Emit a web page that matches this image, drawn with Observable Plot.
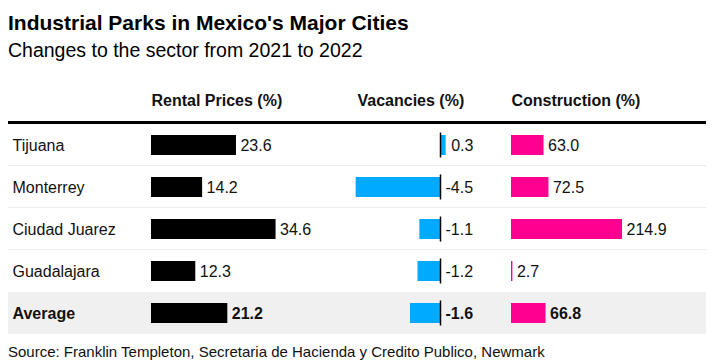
<!DOCTYPE html>
<html>
<head>
<meta charset="utf-8">
<script src="https://cdn.jsdelivr.net/npm/d3@7"></script>
<script src="https://cdn.jsdelivr.net/npm/@observablehq/plot@0.6"></script>
<style>
  html, body { margin: 0; padding: 0; background: #fff; }
  #chart { position: relative; width: 714px; height: 364px; font-family: 'Liberation Sans', Arial, sans-serif; color: #000; overflow: hidden; }
  .abs { position: absolute; }
  .title { left: 8px; top: 11.5px; font-size: 21px; line-height: 21px; font-weight: bold; white-space: nowrap; }
  .subtitle { left: 8px; top: 41px; font-size: 19.5px; line-height: 19.5px; white-space: nowrap; }
  .source { left: 8px; top: 344px; font-size: 15px; line-height: 15px; white-space: nowrap; color: #111; }
</style>
</head>
<body>
<div id="chart">
  <div class="abs title">Industrial Parks in Mexico's Major Cities</div>
  <div class="abs subtitle">Changes to the sector from 2021 to 2022</div>
  <div class="abs source">Source: Franklin Templeton, Secretaria de Hacienda y Credito Publico, Newmark</div>
</div>
<script>
const cities = ["Tijuana", "Monterrey", "Ciudad Juarez", "Guadalajara", "Average"];
const rental = [23.6, 14.2, 34.6, 12.3, 21.2];
const vacancies = [0.3, -4.5, -1.1, -1.2, -1.6];
const construction = [63.0, 72.5, 214.9, 2.7, 66.8];
const headers = ["Rental Prices (%)", "Vacancies (%)", "Construction (%)"];

const rows = cities.map((city, i) => ({city, rental: rental[i], vac: vacancies[i], cons: construction[i]}));
const avgName = "Average";

const FONT = "'Liberation Sans', Arial, sans-serif";
const TOP = 78, H = 258, MT = 46, MB = 2;
const baseStyle = {fontFamily: FONT, fontSize: "16px", background: "transparent", overflow: "visible", color: "#111"};
const yOpt = {domain: cities, padding: 0, axis: null};

const chart = document.getElementById("chart");
function place(node, left) {
  const d = document.createElement("div");
  d.className = "abs";
  d.style.left = left + "px";
  d.style.top = TOP + "px";
  d.appendChild(node);
  chart.appendChild(d);
}

// Base table: header rule, row separators, average background, city names
const base = Plot.plot({
  width: 714, height: H, marginTop: MT, marginBottom: MB, marginLeft: 8, marginRight: 8,
  style: baseStyle,
  x: {domain: [0, 1], axis: null},
  y: yOpt,
  marks: [
    Plot.barX([avgName], {x1: 0, x2: 1, y: d => d, fill: "#f0f0f0"}),
    Plot.barX(cities.slice(0, 3), {x1: 0, x2: 1, y: d => d, insetTop: 41, fill: "#ececec"}),
    Plot.barX([cities[0]], {x1: 0, x2: 1, y: d => d, insetTop: -3, insetBottom: 42, fill: "#000"}),
    Plot.text(cities.filter(c => c !== avgName), {y: d => d, text: d => d, frameAnchor: "left", textAnchor: "start", dx: 4, fontSize: 16, fill: "#111"}),
    Plot.text([avgName], {y: d => d, text: d => d, frameAnchor: "left", textAnchor: "start", dx: 4, fontSize: 16, fontWeight: "bold", fill: "#111"})
  ]
});
place(base, 0);

function valueLabels(xAcc, dx) {
  return [
    Plot.text(rows.filter(d => d.city !== avgName), {y: "city", x: xAcc.x, text: xAcc.t, textAnchor: "start", dx, fontSize: 16, fill: "#111"}),
    Plot.text(rows.filter(d => d.city === avgName), {y: "city", x: xAcc.x, text: xAcc.t, textAnchor: "start", dx, fontSize: 16, fontWeight: "bold", fill: "#111"})
  ];
}
function header(label, dx) {
  return Plot.text([label], {frameAnchor: "top-left", textAnchor: "start", lineAnchor: "middle", dy: -24, dx, fontSize: 16, fontWeight: "bold", fill: "#111"});
}

// Rental prices
const pRental = Plot.plot({
  width: 200, height: H, marginTop: MT, marginBottom: MB, marginLeft: 0, marginRight: 56,
  style: baseStyle,
  x: {domain: [0, 40], axis: null},
  y: yOpt,
  marks: [
    header(headers[0], 0),
    Plot.barX(rows, {y: "city", x: "rental", insetTop: 11, insetBottom: 11, fill: "#000"}),
    ...valueLabels({x: "rental", t: d => d.rental.toFixed(1)}, 4)
  ]
});
place(pRental, 151);

// Vacancies
const pVac = Plot.plot({
  width: 135, height: H, marginTop: MT, marginBottom: MB, marginLeft: 0, marginRight: 0,
  style: baseStyle,
  x: {domain: [-4.8, 2.4], axis: null},
  y: yOpt,
  marks: [
    header(headers[1], 7),
    Plot.barX(rows, {y: "city", x: "vac", insetTop: 11, insetBottom: 11, fill: "#00aaff"}),
    Plot.tickX(rows, {y: "city", x: () => 0, insetTop: 8.5, insetBottom: 8.5, stroke: "#000", strokeWidth: 1.5}),
    ...valueLabels({x: d => Math.max(0, d.vac), t: d => d.vac.toFixed(1)}, 5)
  ]
});
place(pVac, 350);

// Construction
const pCons = Plot.plot({
  width: 190, height: H, marginTop: MT, marginBottom: MB, marginLeft: 0, marginRight: 35,
  style: baseStyle,
  x: {domain: [0, 300], axis: null},
  y: yOpt,
  marks: [
    header(headers[2], 0),
    Plot.barX(rows, {y: "city", x: "cons", insetTop: 11, insetBottom: 11, fill: "#ff0090"}),
    ...valueLabels({x: "cons", t: d => d.cons.toFixed(1)}, 4)
  ]
});
place(pCons, 511);
</script>
</body>
</html>
